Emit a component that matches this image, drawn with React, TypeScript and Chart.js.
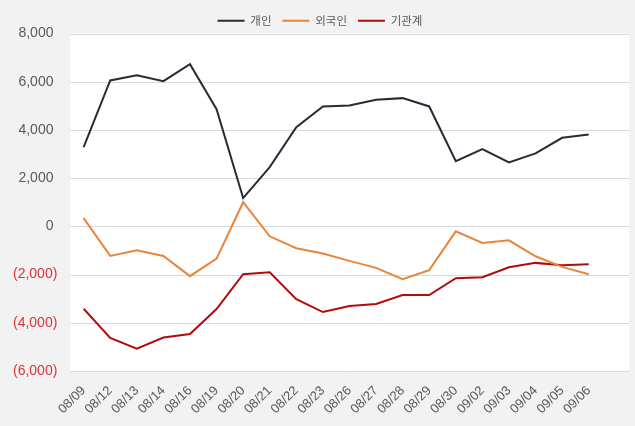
import React, { useEffect, useRef } from 'react';
import { Chart, registerables } from 'chart.js';

Chart.register(...registerables);

const categories = ['08/09', '08/12', '08/13', '08/14', '08/16', '08/19', '08/20', '08/21', '08/22', '08/23', '08/26', '08/27', '08/28', '08/29', '08/30', '09/02', '09/03', '09/04', '09/05', '09/06'];
const individual = [3287, 6052, 6272, 6023, 6728, 4862, 1174, 2459, 4117, 4974, 5016, 5250, 5319, 4974, 2708, 3206, 2653, 3026, 3675, 3813];
const foreign = [343, -1227, -992, -1227, -2066, -1336, 1000, -413, -909, -1130, -1433, -1722, -2190, -1818, -207, -688, -579, -1240, -1680, -1983];
const institution = [-3417, -4628, -5070, -4614, -4463, -3430, -1983, -1901, -3017, -3554, -3306, -3223, -2851, -2851, -2149, -2107, -1694, -1515, -1612, -1570];
const seriesNames = ['개인', '외국인', '기관계'];
const yMin = -6000;
const yMax = 8000;
const yStep = 2000;

const FONT = "'Liberation Sans', 'Noto Sans CJK KR', sans-serif";
const LEGEND_FONT = "'Noto Sans CJK KR', 'Liberation Sans', sans-serif";

const bgPlugin = {
  id: 'plotBg',
  afterLayout(chart: any) {
    const lg = chart.legend;
    if (lg) {
      lg.top += 3;
      lg.bottom += 3;
      lg.left += 19;
      lg.right += 19;
    }
  },
  beforeDraw(chart: any) {
    const { ctx, chartArea, scales } = chart;
    const ext = 27;
    ctx.save();
    ctx.fillStyle = '#ffffff';
    ctx.fillRect(chartArea.left, chartArea.top, chartArea.right + ext - chartArea.left, chartArea.bottom - chartArea.top);
    ctx.strokeStyle = '#d9d9d9';
    ctx.lineWidth = 1;
    scales.y.ticks.forEach((t: any) => {
      const y = Math.round(scales.y.getPixelForValue(t.value)) + 0.5;
      ctx.beginPath();
      ctx.moveTo(chartArea.left, y);
      ctx.lineTo(chartArea.right + ext, y);
      ctx.stroke();
    });
    ctx.restore();
  },
};

function fmt(v: number) {
  const s = Math.abs(v).toLocaleString('en-US');
  return v < 0 ? `(${s})` : `${s} `;
}

export default function App() {
  const ref = useRef<HTMLCanvasElement>(null);
  useEffect(() => {
    document.body.style.margin = '0';
    const chart = new Chart(ref.current!, {
      type: 'line',
      data: {
        labels: categories,
        datasets: [
          { label: seriesNames[0], data: individual, borderColor: '#262b36', backgroundColor: '#262b36', borderWidth: 2, pointRadius: 0, tension: 0 },
          { label: seriesNames[1], data: foreign, borderColor: '#e8853d', backgroundColor: '#e8853d', borderWidth: 2, pointRadius: 0, tension: 0 },
          { label: seriesNames[2], data: institution, borderColor: '#b00c0c', backgroundColor: '#b00c0c', borderWidth: 2, pointRadius: 0, tension: 0 },
        ],
      },
      options: {
        animation: false,
        responsive: false,
        layout: { padding: { left: 0, right: 33, top: 1, bottom: 0 } },
        plugins: {
          legend: {
            position: 'top',
            align: 'center',
            labels: {
              usePointStyle: true,
              pointStyle: 'line',
              pointStyleWidth: 27,
              boxHeight: 3,
              color: '#595959',
              font: { family: LEGEND_FONT, size: 11.5 },
              padding: 11,
            },
          },
          tooltip: { enabled: false },
        },
        scales: {
          x: {
            offset: true,
            grid: { display: false, drawTicks: false },
            border: { display: false },
            afterFit: (s: any) => {
              s.paddingLeft = 0;
              s.paddingRight = 0;
              s.height = 55;
            },
            ticks: {
              autoSkip: false,
              color: '#595959',
              font: { family: FONT, size: 13 },
              minRotation: 45,
              maxRotation: 45,
              padding: 12,
            },
          },
          y: {
            min: yMin,
            max: yMax,
            grid: { display: false, drawTicks: false },
            border: { display: false },
            ticks: {
              stepSize: yStep,
              padding: 13,
              font: { family: FONT, size: 14 },
              color: (c: any) => (c.tick && c.tick.value < 0 ? '#e0303a' : '#595959'),
              callback: (v: any) => fmt(Number(v)),
            },
          },
        },
      },
      plugins: [bgPlugin],
    });
    return () => chart.destroy();
  }, []);
  return (
    <div style={{ position: 'fixed', left: 0, top: 0, width: 635, height: 426, background: '#f2f2f2' }}>
      <canvas ref={ref} width={635} height={426} style={{ display: 'block' }} />
    </div>
  );
}
